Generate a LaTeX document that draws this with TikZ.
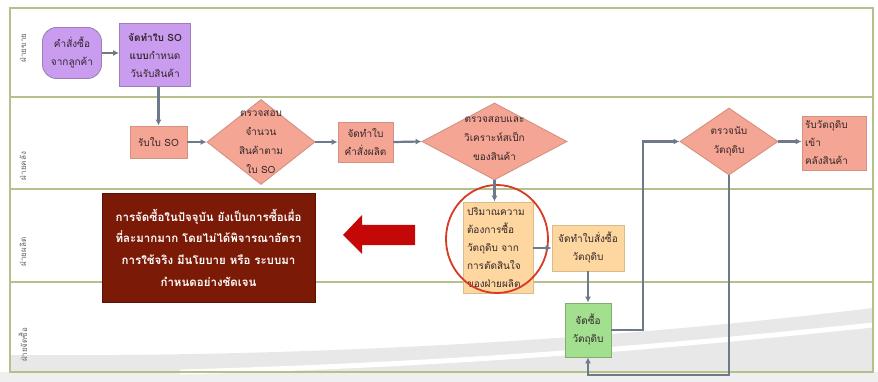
\documentclass[tikz,border=0pt]{standalone}
\usepackage{fontspec}
\setmainfont{Loma}[Script=Thai]
\usetikzlibrary{arrows.meta,shapes.geometric}
\definecolor{lanec}{HTML}{B5C08C}
\definecolor{purpf}{HTML}{C99CF0}
\definecolor{purpd}{HTML}{9C80B4}
\definecolor{salmf}{HTML}{F5A594}
\definecolor{salmd}{HTML}{D49080}
\definecolor{peachf}{HTML}{FDD6A0}
\definecolor{peachd}{HTML}{D8BC8C}
\definecolor{grnf}{HTML}{A2DF8E}
\definecolor{grnd}{HTML}{7DB06A}
\definecolor{darkr}{HTML}{7C1A08}
\definecolor{darkrd}{HTML}{5A1205}
\definecolor{redarr}{HTML}{C40808}
\definecolor{circc}{HTML}{D83A22}
\definecolor{connc}{HTML}{6E7A8A}
\definecolor{txt}{HTML}{33262A}
\definecolor{bgg}{HTML}{EFEFEF}
\definecolor{swg}{HTML}{E8E8E8}
\begin{document}
\begin{tikzpicture}[x=1pt,y=-1pt,
  lane/.style={draw=lanec,line width=1.3pt},
  base/.style={draw, line width=0.9pt, inner sep=0pt, font=\fontsize{10}{18}\selectfont, text=txt, align=center},
  purp/.style={base, fill=purpf, draw=purpd},
  salm/.style={base, fill=salmf, draw=salmd},
  peach/.style={base, fill=peachf, draw=peachd},
  grn/.style={base, fill=grnf, draw=grnd},
  dia/.style={diamond, fill=salmf, draw=salmd, line width=0.9pt, inner sep=0pt},
  dtext/.style={font=\fontsize{10}{19}\selectfont, text=txt, align=center, inner sep=0pt},
  conn/.style={draw=connc, line width=2.2pt, -{Latex[length=6pt,width=6pt]}},
  lbl/.style={rotate=90, font=\fontsize{8}{9}\selectfont, text=black!60, inner sep=0pt}
]
\useasboundingbox (0,0) rectangle (878,382);
\fill[white] (0,0) rectangle (878,382);
\fill[bgg] (0,372) rectangle (878,382);
% background swoosh
\fill[swg] (10,355) .. controls (250,357) and (560,346) .. (873,308) -- (873,372) -- (10,372) -- cycle;
\draw[white, line width=5pt] (180,372) .. controls (480,364) and (700,343) .. (873,325);
% lanes
\draw[lane] (10,8) rectangle (873,372);
\draw[lane] (10,97) -- (873,97);
\draw[lane] (10,189) -- (873,189);
\draw[lane] (10,282) -- (873,282);
\node[lbl] (l1) at (23,48) {ฝ่ายขาย};
\node[lbl] (l2) at (23,166) {ฝ่ายคลัง};
\node[lbl] (l3) at (23,252) {ฝ่ายผลิต};
\node[lbl] (l4) at (23,345) {ฝ่ายจัดซื้อ};
% nodes
\node[purp, rounded corners=14pt, minimum width=59pt, minimum height=51pt] (n1) at (72,53) {คำสั่งซื้อ\\จากลูกค้า};
\node[purp, minimum width=71pt, minimum height=63pt] (n2) at (155,55) {\textbf{จัดทำใบ SO}\\\textbf{แบบ}กำหนด\\วันรับสินค้า};
\node[salm, minimum width=57pt, minimum height=32pt] (n3) at (158.5,142) {รับใบ SO};
\node[dia, minimum width=108pt, minimum height=85pt] (d4) at (261,142) {};
\node[dtext] (d4t) at (d4) {ตรวจสอบ\\จำนวน\\สินค้าตาม\\ใบ SO};
\node[salm, minimum width=55pt, minimum height=40pt] (n5) at (365.5,142) {จัดทำใบ\\คำสั่งผลิต};
\node[dia, minimum width=145pt, minimum height=77pt] (d6) at (494.5,141.5) {};
\node[dtext] (d6t) at (494.5,139) {ตรวจสอบและ\\วิเคราะห์สเป็ก\\ของสินค้า};
\node[dia, minimum width=98pt, minimum height=67pt] (d7) at (729,141.5) {};
\node[dtext] (d7t) at (d7) {ตรวจนับ\\วัตถุดิบ};
\node[salm, minimum width=64pt, minimum height=54pt, text width=58pt, align=left] (n8) at (834,143) {รับวัตถุดิบ\\เข้า\\คลังสินค้า};
\node[peach, minimum width=70pt, minimum height=91pt, text width=62pt, align=left] (n9) at (498,247.5) {ปริมาณความ\\ต้องการซื้อ\\วัตถุดิบ จาก\\การตัดสินใจ\\ของฝ่ายผลิต};
\node[peach, minimum width=72pt, minimum height=46pt] (n10) at (588,248) {จัดทำใบสั่งซื้อ\\วัตถุดิบ};
\node[grn, minimum width=46pt, minimum height=54pt] (n11) at (588,330) {จัดซื้อ\\วัตถุดิบ};
\node[draw=darkrd, fill=darkr, line width=0.8pt, minimum width=213pt, minimum height=109pt, text=white, align=center, font=\bfseries\fontsize{11.5}{21.7}\selectfont] (note) at (208.5,247.5) {การจัดซื้อในปัจจุบัน ยังเป็นการซื้อเผื่อ\\ที่ละมากมาก โดยไม่ได้พิจารณาอัตรา\\การใช้จริง มีนโยบาย หรือ ระบบมา\\กำหนดอย่างชัดเจน};
% red arrow
\fill[redarr] (343,235) -- (362,215) -- (362,225) -- (415,225) -- (415,245) -- (362,245) -- (362,254) -- cycle;
% red circle
\draw[circc, line width=1.8pt] (497,239) ellipse (51pt and 54pt);
% connectors
\draw[conn] (n1.east) -- (n1.east -| n2.west);
\draw[conn] (n3.north |- n2.south) -- (n3.north);
\draw[conn] (n3.east) -- (d4.west);
\draw[conn] (d4.east) -- (n5.west);
\draw[conn] (n5.east) -- (d6.west);
\draw[conn] (d6.south) -- (d6.south |- n9.north);
\draw[conn] (n9.east |- n10.west) -- (n10.west);
\draw[conn] (n10.south) -- (n11.north);
\coordinate (j1) at (643,0);
\coordinate (j2) at (0,375);
\draw[conn] (n11.east) -- (n11.east -| j1) |- (d7.west);
\draw[conn] (d7.south) -- (d7.south |- j2) -| (n11.south);
\draw[conn] (d7.east) -- (d7.east -| n8.west);
\end{tikzpicture}
\end{document}
